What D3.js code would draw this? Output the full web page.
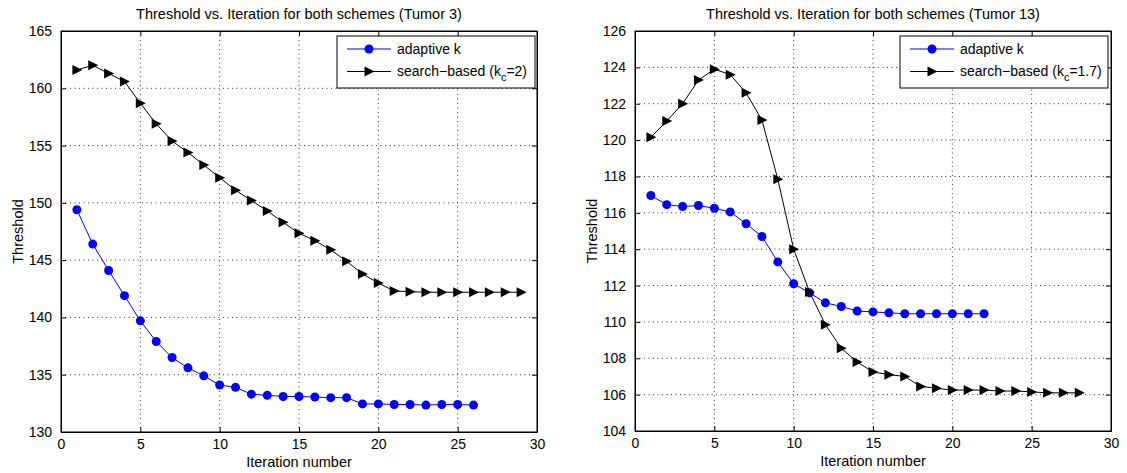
<!DOCTYPE html>
<html>
<head>
<meta charset="utf-8">
<script src="https://cdn.jsdelivr.net/npm/d3@7"></script>
<style>
  body { margin: 0; background: #fff; }
  svg { display: block; font-family: "Liberation Sans", Arial, Helvetica, sans-serif; }
</style>
</head>
<body>
<div id="viz"></div>
<script>
// threshold per iteration
const tumor3Adaptive = [149.4, 146.4, 144.1, 141.9, 139.7, 137.9, 136.5, 135.6, 134.9, 134.1,
  133.9, 133.3, 133.2, 133.1, 133.1, 133.05, 133.0, 133.0, 132.45, 132.45,
  132.4, 132.4, 132.35, 132.4, 132.4, 132.35];
const tumor3Search = [161.6, 162.0, 161.3, 160.6, 158.7, 156.9, 155.4, 154.4, 153.3, 152.2,
  151.1, 150.2, 149.3, 148.3, 147.35, 146.7, 145.9, 144.9, 143.8, 143.0,
  142.3, 142.25, 142.2, 142.2, 142.2, 142.2, 142.2, 142.2, 142.2];

const tumor13Adaptive = [116.95, 116.45, 116.35, 116.4, 116.25, 116.05, 115.4, 114.7, 113.3, 112.1,
  111.6, 111.05, 110.85, 110.6, 110.55, 110.5, 110.45, 110.45, 110.45, 110.45,
  110.45, 110.45];
const tumor13Search = [120.15, 121.05, 122.0, 123.3, 123.9, 123.6, 122.6, 121.1, 117.85, 114.0,
  111.65, 109.85, 108.55, 107.8, 107.25, 107.1, 107.0, 106.45, 106.35, 106.25,
  106.25, 106.25, 106.2, 106.2, 106.15, 106.1, 106.1, 106.1];

// tick labels
const xTicks = [0, 5, 10, 15, 20, 25, 30];
const yTicksTumor3 = [130, 135, 140, 145, 150, 155, 160, 165];
const yTicksTumor13 = [104, 106, 108, 110, 112, 114, 116, 118, 120, 122, 124, 126];

const svg = d3.select("#viz").append("svg")
  .attr("width", 1127)
  .attr("height", 473);

// one panel = one MATLAB style axes box
function drawPanel(p) {
  const w = p.right - p.left, h = p.bottom - p.top;
  const g = svg.append("g").attr("transform", `translate(${p.left},${p.top})`);

  const x = d3.scaleLinear().domain([0, 30]).range([0, w]);
  const y = d3.scaleLinear().domain(d3.extent(p.yTicks)).range([h, 0]);

  // dotted grid
  g.append("g").selectAll("line").data(xTicks.slice(1, -1)).join("line")
    .attr("x1", d => x(d)).attr("x2", d => x(d))
    .attr("y1", 0).attr("y2", h)
    .attr("stroke", "#000").attr("stroke-width", 0.8)
    .attr("stroke-dasharray", "1,3.5");
  g.append("g").selectAll("line").data(p.yTicks.slice(1, -1)).join("line")
    .attr("x1", 0).attr("x2", w)
    .attr("y1", d => y(d)).attr("y2", d => y(d))
    .attr("stroke", "#000").attr("stroke-width", 0.8)
    .attr("stroke-dasharray", "1,3.5");

  // axes with inward ticks
  const xAxis = g.append("g").attr("transform", `translate(0,${h})`)
    .call(d3.axisBottom(x).tickValues(xTicks).tickSizeInner(-5).tickSizeOuter(0).tickPadding(10));
  g.append("g")
    .call(d3.axisLeft(y).tickValues(p.yTicks).tickSizeInner(-5).tickSizeOuter(0).tickPadding(9));
  g.append("g").attr("transform", `translate(${w},0)`)
    .call(d3.axisRight(y).tickValues(p.yTicks).tickSizeInner(-5).tickSizeOuter(0).tickFormat(""));
  g.append("g")
    .call(d3.axisTop(x).tickValues(xTicks).tickSizeInner(-5).tickSizeOuter(0).tickFormat(""));
  g.selectAll(".domain").attr("stroke", "#000");
  g.selectAll(".tick text").attr("font-size", 14).attr("fill", "#000")
    .style("font-family", "'Liberation Sans', Arial, sans-serif");
  xAxis.selectAll(".tick text").attr("dy", "0.5em");

  g.append("rect").attr("width", w).attr("height", h)
    .attr("fill", "none").attr("stroke", "#000").attr("stroke-width", 1);

  const line = d3.line().x((d, i) => x(i + 1)).y(d => y(d));

  // adaptive k (blue circles)
  g.append("path").datum(p.adaptive).attr("d", line)
    .attr("fill", "none").attr("stroke", "#0000ff").attr("stroke-width", 1);
  g.append("g").selectAll("circle").data(p.adaptive).join("circle")
    .attr("cx", (d, i) => x(i + 1)).attr("cy", d => y(d)).attr("r", 4.5)
    .attr("fill", "#0000ff");

  // search based (black right triangles)
  g.append("path").datum(p.search).attr("d", line)
    .attr("fill", "none").attr("stroke", "#000").attr("stroke-width", 1);
  g.append("g").selectAll("path").data(p.search).join("path")
    .attr("d", "M-4.5,-5L5.5,0L-4.5,5Z")
    .attr("transform", (d, i) => `translate(${x(i + 1)},${y(d)})`)
    .attr("fill", "#000");

  // title and labels
  g.append("text").attr("x", w / 2).attr("y", -17).attr("dy", "0.35em")
    .attr("text-anchor", "middle").attr("font-size", 14.5).text(p.title);
  g.append("text").attr("x", w / 2).attr("y", h + 30).attr("dy", "0.35em")
    .attr("text-anchor", "middle").attr("font-size", 14.5).text("Iteration number");
  g.append("text").attr("transform", `translate(-43,${h / 2}) rotate(-90)`)
    .attr("dy", "0.35em").attr("text-anchor", "middle").attr("font-size", 14.5).text("Threshold");

  // legend
  const lg = g.append("g").attr("transform", `translate(${p.legend.x - p.left},${p.legend.y - p.top})`);
  lg.append("rect").attr("width", p.legend.w).attr("height", 52)
    .attr("fill", "#fff").attr("stroke", "#000").attr("stroke-width", 1);
  const rows = [
    { color: "#0000ff", marker: "circle", label: ["adaptive k"] },
    { color: "#000", marker: "tri", label: ["search\u2212based (k", "c", "=" + p.kc + ")"] }
  ];
  rows.forEach((r, i) => {
    const ry = 13 + i * 22.5;
    lg.append("line").attr("x1", 10).attr("x2", 54).attr("y1", ry).attr("y2", ry)
      .attr("stroke", r.color).attr("stroke-width", 1);
    if (r.marker === "circle") {
      lg.append("circle").attr("cx", 32).attr("cy", ry).attr("r", 4.5).attr("fill", r.color);
    } else {
      lg.append("path").attr("d", "M-4.5,-5L5.5,0L-4.5,5Z")
        .attr("transform", `translate(32,${ry})`).attr("fill", r.color);
    }
    const t = lg.append("text").attr("x", 60).attr("y", ry).attr("dy", "0.35em").attr("font-size", 14);
    t.append("tspan").text(r.label[0]);
    if (r.label.length > 1) {
      t.append("tspan").attr("dy", 5).attr("font-size", 11).text(r.label[1]);
      t.append("tspan").attr("dy", -5).text(r.label[2]);
    }
  });
}

drawPanel({
  left: 61, right: 537, top: 31, bottom: 432,
  yTicks: yTicksTumor3,
  adaptive: tumor3Adaptive, search: tumor3Search,
  title: "Threshold vs. Iteration for both schemes (Tumor 3)",
  kc: "2",
  legend: { x: 337, y: 36, w: 198 }
});

drawPanel({
  left: 635, right: 1111, top: 31, bottom: 431,
  yTicks: yTicksTumor13,
  adaptive: tumor13Adaptive, search: tumor13Search,
  title: "Threshold vs. Iteration for both schemes (Tumor 13)",
  kc: "1.7",
  legend: { x: 900, y: 36, w: 208 }
});
</script>
</body>
</html>
